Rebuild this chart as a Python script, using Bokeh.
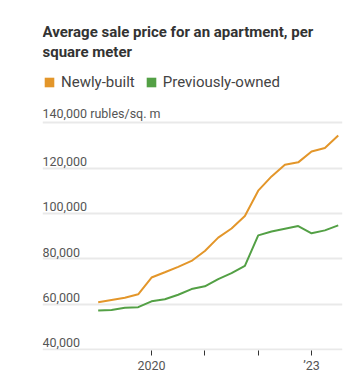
from bokeh.plotting import figure
from bokeh.models import ColumnDataSource, FixedTicker, Label, Legend, LegendItem
from bokeh.core.properties import value
from bokeh.embed import file_html
from bokeh.resources import INLINE

# Quarterly observations, 2019 Q1 .. 2023 Q3 (decimal year)
quarters = [2019.0, 2019.25, 2019.5, 2019.75,
            2020.0, 2020.25, 2020.5, 2020.75,
            2021.0, 2021.25, 2021.5, 2021.75,
            2022.0, 2022.25, 2022.5, 2022.75,
            2023.0, 2023.25, 2023.5]
newly_built = [60800, 61800, 62800, 64300,
               71700, 74000, 76400, 79000,
               83400, 89300, 93300, 98800,
               110000, 116300, 121400, 122500,
               127300, 128800, 134300]
previously_owned = [57100, 57400, 58400, 58600,
                    61200, 62100, 64100, 66600,
                    67800, 71000, 73600, 76800,
                    90300, 92000, 93200, 94400,
                    91200, 92500, 94700]

y_ticks = [40000, 60000, 80000, 100000, 120000, 140000]
y_tick_labels = ["40,000", "60,000", "80,000", "100,000", "120,000",
                 "140,000 rubles/sq. m"]
x_ticks = [2020, 2021, 2022, 2023]
x_tick_labels = ["2020", "", "", "\u201923"]

series_names = ["Newly-built", "Previously-owned"]
series_colors = ["#e3962a", "#53a045"]
title_lines = ["Average sale price for an apartment, per", "square meter"]

FONT = "Roboto"
NAN = float("nan")

x_start, x_end = 2017.956, 2023.58
y_start, y_end = 39500, 193900   # upper part of the frame holds title & legend

p = figure(width=353, height=375, output_backend="svg", toolbar_location=None,
           x_range=(x_start, x_end), y_range=(y_start, y_end),
           min_border_left=42, min_border_right=11, min_border_top=0,
           min_border_bottom=23)
p.outline_line_color = None
p.background_fill_color = "white"
p.border_fill_color = "white"

# grid
p.xgrid.grid_line_color = None
p.yaxis.visible = False
p.ygrid.ticker = FixedTicker(ticks=y_ticks)
p.ygrid.grid_line_color = "#e9e9e9"
p.ygrid.grid_line_width = 2

# x axis
p.xaxis.ticker = FixedTicker(ticks=x_ticks)
p.xaxis.major_label_overrides = {t: l for t, l in zip(x_ticks, x_tick_labels)}
p.xaxis.axis_line_color = None
p.xaxis.major_tick_line_color = "#333333"
p.xaxis.major_tick_in = 0
p.xaxis.major_tick_out = 5
p.xaxis.minor_tick_line_color = None
p.xaxis.major_label_standoff = 2
p.xaxis.axis_label_standoff = 0
p.xaxis.major_label_text_font = FONT
p.xaxis.major_label_text_font_size = "12.5px"
p.xaxis.major_label_text_color = "#555555"

# y tick labels drawn above grid lines
lab_src = ColumnDataSource(dict(x=[x_start] * len(y_ticks), y=y_ticks, t=y_tick_labels))
p.text(x="x", y="y", text="t", source=lab_src, text_baseline="bottom",
       text_align="left", y_offset=-2, text_font=value(FONT),
       text_font_size="12.5px", text_color="#555555")

# lines
p.line(quarters, newly_built, line_color=series_colors[0], line_width=2)
p.line(quarters, previously_owned, line_color=series_colors[1], line_width=2)

# legend (square swatches; NaN quads draw nothing in the plot)
swatches = []
for c in series_colors:
    r = p.quad(left=[NAN], right=[NAN], top=[NAN], bottom=[NAN],
               fill_color=c, line_color=None)
    swatches.append(r)
legend = Legend(items=[LegendItem(label=n, renderers=[r]) for n, r in zip(series_names, swatches)],
                orientation="horizontal", location=(1, 259),
                glyph_width=12, glyph_height=12, label_standoff=6, spacing=10,
                padding=0, margin=0, border_line_color=None, background_fill_alpha=0,
                label_text_font=FONT, label_text_font_size="15px",
                label_text_color="#444444", label_height=12)
p.add_layout(legend, "center")

# two-line title
for i, line in enumerate(title_lines):
    p.add_layout(Label(x=0, y=318.5 - 20 * i, x_units="screen", y_units="screen",
                       text=line, text_font=FONT, text_font_size="15px",
                       text_font_style="bold", text_color="#333333",
                       text_baseline="alphabetic", text_align="left"))

open("out.html", "w").write(file_html(p, INLINE))
